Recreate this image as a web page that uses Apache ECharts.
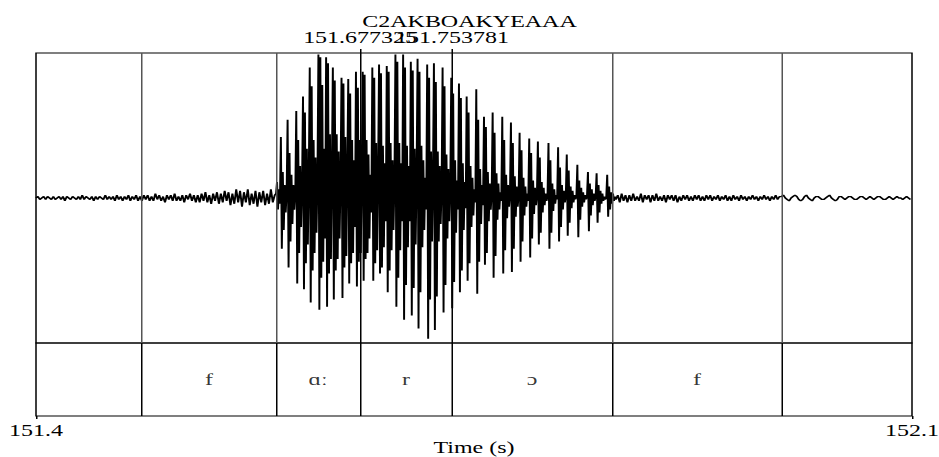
<!DOCTYPE html>
<html>
<head>
<meta charset="utf-8">
<script src="https://cdn.jsdelivr.net/npm/echarts@6/dist/echarts.min.js"></script>
<style>
  html, body { margin: 0; padding: 0; background: #fff; overflow: hidden; }
  /* the reference picture is stretched 1.5x horizontally, so the chart is too */
  #wave { width: 626px; height: 457px; transform: scaleX(1.5); transform-origin: 0 0; }
</style>
</head>
<body>
<div id="wave"></div>
<script>
const fileName = 'C2AKBOAKYEAAA';
const timeMin = 151.408;
const timeMax = 152.136;

// cursors and segment boundaries (s)
const cursorTimes = [151.677325, 151.753781];
const boundaryTimes = [151.4961, 151.6075, 151.677325, 151.753781, 151.8867, 152.0280];
const segmentLabels = ['', 'f', 'ɑː', 'r', 'ɔ', 'f', ''];

// waveform, amplitude in % of full scale
const noiseStart = 151.408;
const noiseStep = 0.0016;
const noiseBefore = [
  0, 1, -1, 0, 1, -1, 1, 0, -1, 1,
  -1, 0, 1, -1, 1, -2, 1, 0, -1, 1,
  0, -1, 1, -1, 2, -1, 1, 0, -1, 1,
  -2, 1, -1, 1, 0, -1, 2, -1, 1, -1,
  1, -2, 2, -1, 1, -2, 1, -1, 2, -2,
  1, -1, 2, -2, 1,
  -2, 2, -1, 2, -2, 1, -2, 3, -1, 2,
  -2, 1, -3, 2, -1, 2, -2, 3, -2, 1,
  -2, 2, -3, 2, -1, 3, -2, 2, -3, 2,
  -3, 3, -2, 4, -3, 2, -4, 3, -2, 4,
  -4, 3, -3, 5, -2, 4, -5, 3, -4, 6,
  -3, 5, -6, 4, -3, 6, -5, 3, -4, 5,
  -6, 4, -3, 5, -5, 3, -4, 6, -3, 2
];

const voicedStart = 151.6075;
const voicedStep = 0.0008;
// one row per glottal pulse
const voicedPulses = [
  [3, 11, -8, 6, -4],
  [42, -35, 18, -22, 9, -10, 4],
  [54, -48, 31, -30, 16, -18, 9, -8, 3],
  [60, -59, 40, -38, 22, -20, 8],
  [70, -63, 59, -45, 34, -32, 14],
  [90, -72, 77, -50, 40, -38, 28, -24, 12],
  [99, -77, 97, -55, 78, -44, 34, -28],
  [97, -75, 93, -52, 44, -42, 20],
  [90, -70, 81, -50, 44, -42, 32, -28, 14],
  [83, -69, 79, -48, 42, -40, 18],
  [82, -59, 72, -45, 40, -38, 26, -20],
  [87, -61, 76, -44, 40, -38, 16],
  [87, -57, 85, -42, 40, -38, 30, -28, 16, -10],
  [90, -57, 83, -45, 38, -36, 16],
  [92, -52, 86, -48, 36, -34, 24, -16],
  [91, -65, 87, -50, 38, -36, 26, -22, 12],
  [99, -75, 94, -55, 38, -36, 24, -16],
  [99, -84, 90, -60, 36, -34, 22, -16],
  [94, -81, 88, -62, 34, -32, 16],
  [96, -90, 87, -65, 36, -34, 26, -22, 14, -8],
  [92, -97, 83, -70, 32, -30, 14],
  [93, -91, 80, -68, 32, -30, 22, -18, 8],
  [90, -79, 77, -60, 30, -28, 20, -16, 8],
  [83, -76, 72, -58, 26, -24, 12, -8],
  [79, -65, 69, -50, 24, -22, 11, -7],
  [70, -57, 59, -45, 22, -20, 14, -12, 6, -3],
  [75, -66, 54, -44, 20, -18, 9, -5],
  [56, -46, 49, -38, 18, -16, 10, -8, 3],
  [59, -55, 45, -40, 17, -15, 10, -8, 4, -2],
  [56, -52, 40, -36, 16, -14, 9, -6, 3],
  [52, -51, 38, -35, 15, -13, 8, -6, 2],
  [45, -44, 33, -30, 14, -12, 8, -6, 3, -2],
  [41, -41, 31, -28, 12, -11, 7, -5, 2],
  [39, -32, 28, -24, 11, -10, 7, -5, 3, -2, 1],
  [38, -35, 26, -24, 10, -9, 6, -4, 2, -1],
  [35, -30, 21, -20, 9, -8, 5, -3, 1],
  [30, -26, 19, -17, 8, -7, 5, -3, 2, -1, 1],
  [23, -27, 12, -15, 7, -6, 4, -3, 2, -1, 1],
  [18, -23, 10, -12, 6, -5, 3, -2, 1],
  [17, -17, 9, -10, 5, -4, 3, -2, 1, -1, 0],
  [16, -13, 8, -8, 4, -4, 3, -2, 1, -1]
];

const tailStart = 151.8915;
const noiseAfter = [
  2, -3, 3, -2, 2, -3, 2, -2, 3, -2,
  1, -2, 3, -3, 2, -1, 2, -3, 2, -2,
  3, -2, 1, -2, 2, -3, 2, -1, 2, -2,
  2, -3, 1, -2, 2, -1, 2, -2, 1, -2,
  2, -1, 2,
  -2, 1, -2, 2, -1, 2, -2, 1, -1, 2,
  -2, 1, -1, 2, -2, 1, -2, 2, -1, 1,
  -2, 2, -1, 1, -2, 1, -1, 2, -1, 1,
  -2, 1, -1, 2, -1, 1, -2, 1, -1, 2,
  -1, 1,
  1, 2, 0, -1, -2, 0, 1, 2, 1, -1,
  -2, -1, 1, 2, 0, -1, -2, 0, 1, 1,
  0, -1, -1, 0, 1, 2, 0, -1, -2, -1,
  1, 1, 0, -1, 0, 1, 1, 0, -1, -1,
  0, 1, 1, 0, -1, 0, 1, 0, -1, 0,
  1, 1, 0, -1, -1, 0, 1, 0, -1, 0,
  1, 0, 0, -1, 0, 1, 0, -1
];

const serif = "'Liberation Serif', 'DejaVu Serif', serif";

const drawChart = () => {
  const myChart = echarts.init(document.getElementById('wave'), null, {renderer: 'svg'});

  const waveData = [];
  noiseBefore.forEach((v, i) => waveData.push([noiseStart + i * noiseStep, v]));
  voicedPulses.flat().forEach((v, i) => waveData.push([voicedStart + i * voicedStep, v]));
  noiseAfter.forEach((v, i) => waveData.push([tailStart + i * noiseStep, v]));

  // label sits in the middle of each segment
  const edges = [timeMin].concat(boundaryTimes, [timeMax]);
  const segData = [];
  for (let i = 0; i < segmentLabels.length; i++) {
    if (segmentLabels[i] === '') continue;
    segData.push({name: segmentLabels[i], value: [(edges[i] + edges[i + 1]) / 2, 0.5]});
  }

  const gridBase = {left: 24, width: 584, outerBoundsMode: 'none', containLabel: false};

  const option = {
    animation: false,
    title: {
      text: fileName,
      left: 'center',
      top: 9,
      textStyle: {fontFamily: serif, fontSize: 16, fontWeight: 'normal', color: '#000'}
    },
    grid: [
      Object.assign({top: 53, height: 290, show: true, borderColor: '#000', borderWidth: 1}, gridBase),
      Object.assign({top: 343, height: 73, show: true, borderColor: '#000', borderWidth: 1}, gridBase),
      // thin strip above the frame for the cursor marks
      Object.assign({top: 49, height: 4, show: false}, gridBase)
    ],
    xAxis: [
      {gridIndex: 0, type: 'value', min: timeMin, max: timeMax, show: false},
      {
        gridIndex: 1, type: 'value', min: timeMin, max: timeMax, interval: 0.728,
        axisLine: {show: false},
        axisTick: {show: true, length: 3, lineStyle: {color: '#000'}},
        splitLine: {show: false},
        axisLabel: {
          margin: 7,
          color: '#000', fontFamily: serif, fontSize: 16,
          formatter: function (v) { return v.toFixed(1); }
        },
        name: 'Time (s)',
        nameLocation: 'middle',
        nameGap: 23,
        nameTextStyle: {color: '#000', fontFamily: serif, fontSize: 16}
      },
      {gridIndex: 2, type: 'value', min: timeMin, max: timeMax, show: false}
    ],
    yAxis: [
      {gridIndex: 0, type: 'value', min: -100, max: 100, show: false},
      {gridIndex: 1, type: 'value', min: 0, max: 1, show: false},
      {gridIndex: 2, type: 'value', min: 0, max: 1, show: false}
    ],
    series: [
      {
        name: 'wave',
        type: 'line',
        xAxisIndex: 0,
        yAxisIndex: 0,
        data: waveData,
        showSymbol: false,
        symbol: 'none',
        lineStyle: {color: '#000', width: 1.3},
        markLine: {
          silent: true,
          precision: 6,
          symbol: ['none', 'none'],
          animation: false,
          label: {show: false},
          data: boundaryTimes.map(t => ({
            xAxis: t,
            lineStyle: {color: cursorTimes.indexOf(t) < 0 ? '#555' : '#000', width: 1, type: 'solid'}
          }))
        }
      },
      {
        name: 'cursors',
        type: 'scatter',
        xAxisIndex: 2,
        yAxisIndex: 2,
        data: cursorTimes.map(t => [t, 0.5]),
        symbolSize: 0,
        markLine: {
          silent: true,
          precision: 6,
          symbol: ['none', 'none'],
          animation: false,
          lineStyle: {color: '#000', width: 1, type: 'solid'},
          label: {
            show: true,
            position: 'end',
            distance: 3,
            color: '#000',
            fontFamily: serif,
            fontSize: 16,
            formatter: function (p) { return cursorTimes[p.dataIndex].toFixed(6); }
          },
          data: cursorTimes.map(t => ({xAxis: t}))
        }
      },
      {
        name: 'segments',
        type: 'scatter',
        xAxisIndex: 1,
        yAxisIndex: 1,
        data: segData,
        symbolSize: 0,
        label: {
          show: true,
          position: 'inside',
          color: '#000',
          fontFamily: serif,
          fontSize: 16,
          formatter: '{b}'
        },
        markLine: {
          silent: true,
          precision: 6,
          symbol: ['none', 'none'],
          animation: false,
          label: {show: false},
          lineStyle: {color: '#000', width: 1, type: 'solid'},
          data: boundaryTimes.map(t => ({xAxis: t}))
        }
      }
    ]
  };
  myChart.setOption(option);
};

drawChart();
</script>
</body>
</html>
